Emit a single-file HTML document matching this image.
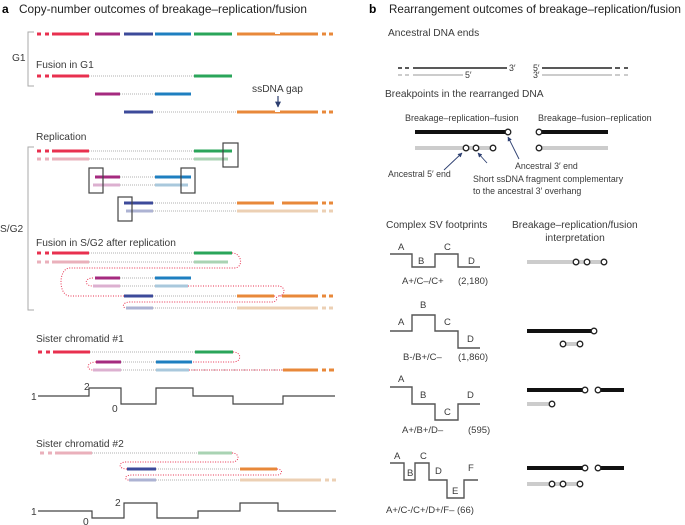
<!DOCTYPE html>
<html><head><meta charset="utf-8"><style>
body{margin:0;background:#fff}
svg{display:block;font-family:"Liberation Sans",sans-serif;fill:#333}
</style></head><body>
<svg width="685" height="525" viewBox="0 0 685 525" xmlns="http://www.w3.org/2000/svg">
<defs>
<marker id="ah" viewBox="0 0 10 10" refX="9" refY="5" markerWidth="5" markerHeight="5" orient="auto"><path d="M0,0L10,5L0,10z" fill="#2c3e70"/></marker>
</defs>
<g font-size="11.6">
<text x="2" y="13" font-weight="bold" font-size="12" fill="#000">a</text>
<text x="19" y="13" fill="#222" textLength="288" lengthAdjust="spacingAndGlyphs">Copy-number outcomes of breakage–replication/fusion</text>
<text x="369" y="13" font-weight="bold" font-size="12" fill="#000">b</text>
<text x="389" y="13" fill="#222" textLength="292" lengthAdjust="spacingAndGlyphs">Rearrangement outcomes of breakage–replication/fusion</text>
</g>
<g font-size="10.2" fill="#3a3a3a">
<text x="36" y="68">Fusion in G1</text>
<text x="252" y="92">ssDNA gap</text>
<text x="36" y="140">Replication</text>
<text x="0" y="232">S/G2</text>
<text x="12" y="61">G1</text>
<text x="36" y="246">Fusion in S/G2 after replication</text>
<text x="36" y="342">Sister chromatid #1</text>
<text x="36" y="447">Sister chromatid #2</text>
<text x="31" y="400">1</text><text x="84" y="390">2</text><text x="112" y="412">0</text>
<text x="31" y="515">1</text><text x="115" y="506">2</text><text x="83" y="525">0</text>
</g>
<g stroke="#aaa" fill="none" stroke-width="1">
<path d="M34,32H28V86H34"/><path d="M34,147H28V310H34"/>
</g>
<g stroke-width="3" fill="none">
<path d="M37,34H41M45,34H49M52,34H89" stroke="#e8304f"/>
<path d="M95,34H120" stroke="#a52a7f"/>
<path d="M124,34H153" stroke="#3c4a9a"/>
<path d="M155,34H191" stroke="#1e7fc0"/>
<path d="M194,34H232" stroke="#2aa55a"/>
<path d="M237,34H318M322,34H326M329,34H333" stroke="#e8883a"/>
<path d="M37,76H41M45,76H49M52,76H89" stroke="#e8304f"/>
<path d="M194,76H232" stroke="#2aa55a"/>
<path d="M95,94H120" stroke="#a52a7f"/>
<path d="M155,94H191" stroke="#1e7fc0"/>
<path d="M124,112H153" stroke="#3c4a9a"/>
<path d="M237,112H318M322,112H326M329,112H333" stroke="#e8883a"/>
<path d="M37,151H41M45,151H49M52,151H89" stroke="#e8304f"/>
<path d="M194,151H232" stroke="#2aa55a"/>
<path d="M37,159H41M45,159H49M52,159H89" stroke="#eab0bb"/>
<path d="M194,159H228" stroke="#a9d3b3"/>
<path d="M95,177H120" stroke="#a52a7f"/><path d="M155,177H191" stroke="#1e7fc0"/>
<path d="M93,185H120" stroke="#dcb0d0"/><path d="M155,185H188" stroke="#a9c8dc"/>
<path d="M124,203H153" stroke="#3c4a9a"/>
<path d="M237,203H274M282,203H318M322,203H326M329,203H333" stroke="#e8883a"/>
<path d="M126,211H153" stroke="#adb3d3"/>
<path d="M237,211H318M322,211H326M329,211H333" stroke="#ecd0b4"/>
<path d="M37,253H41M45,253H49M52,253H89" stroke="#e8304f"/>
<path d="M194,253H232" stroke="#2aa55a"/>
<path d="M37,262H41M45,262H49M52,262H89" stroke="#eab0bb"/>
<path d="M194,262H228" stroke="#a9d3b3"/>
<path d="M95,278H120" stroke="#a52a7f"/><path d="M155,278H191" stroke="#1e7fc0"/>
<path d="M93,286H120" stroke="#dcb0d0"/><path d="M155,286H188" stroke="#a9c8dc"/>
<path d="M124,296H153" stroke="#3c4a9a"/>
<path d="M237,296H274M282,296H318M322,296H326M329,296H333" stroke="#e8883a"/>
<path d="M126,308H153" stroke="#adb3d3"/>
<path d="M237,308H318M322,308H326M329,308H333" stroke="#ecd0b4"/>
<path d="M38,352H42M46,352H50M53,352H90" stroke="#e8304f"/>
<path d="M195,352H233" stroke="#2aa55a"/>
<path d="M96,362H121" stroke="#a52a7f"/><path d="M156,362H192" stroke="#1e7fc0"/>
<path d="M93,370H121" stroke="#dcb0d0"/><path d="M156,370H189" stroke="#a9c8dc"/>
<path d="M283,370H318M322,370H326M329,370H334" stroke="#e8883a"/>
<path d="M40,453H44M48,453H52M55,453H92" stroke="#eab0bb"/>
<path d="M198,453H232" stroke="#a9d3b3"/>
<path d="M127,469H156" stroke="#3c4a9a"/><path d="M240,469H277" stroke="#e8883a"/>
<path d="M129,480H156" stroke="#adb3d3"/>
<path d="M240,480H321M325,480H329M332,480H336" stroke="#ecd0b4"/>
</g>
<rect x="275" y="32" width="5" height="2" fill="#fff"/>
<rect x="275" y="110" width="5" height="2" fill="#fff"/>
<path d="M278,96V107" stroke="#2c3e70" stroke-width="1.2" marker-end="url(#ah)"/>
<g stroke="#999" stroke-width="0.8" stroke-dasharray="1,1" fill="none">
<path d="M89,76H194M120,94H155M153,112H237"/>
<path d="M89,151H194M89,159H194M120,177H155M120,185H155M153,203H237M153,211H237"/>
<path d="M89,253H194M89,262H194M120,278H155M120,286H155M153,296H237M153,308H237"/>
<path d="M90,352H195M121,362H156M121,370H156M189,370H283"/>
<path d="M92,453H198M156,469H240M156,480H240"/>
</g>
<g stroke="#444" stroke-width="1.2" fill="none">
<rect x="223" y="143" width="15" height="24"/>
<rect x="89" y="168" width="14" height="25"/>
<rect x="181" y="168" width="14" height="25"/>
<rect x="118" y="197" width="14" height="24"/>
</g>
<g stroke="#e8304f" stroke-width="1" stroke-dasharray="1,1.5" fill="none">
<path d="M232,253C242,253 244,268 234,268H70C58,268 58,296 70,296H124"/>
<path d="M93,278C84,278 84,286 93,286"/>
<path d="M188,286H278C286,286 286,296 278,296H282"/>
<path d="M274,296C278,296 278,302 272,302H130C122,302 122,308 126,308"/>
<path d="M233,352C242,352 242,362 233,362H192"/>
<path d="M96,362C86,362 86,370 93,370"/>
<path d="M189,370H283"/>
<path d="M232,453C240,453 240,462 232,462H126C118,462 118,469 127,469"/>
<path d="M277,469C283,469 283,475 277,475H132C124,475 124,480 129,480"/>
</g>
<g stroke="#444" stroke-width="1.2" fill="none">
<path d="M38,396H89V388H121V404H156V388H193V396H233V404H283V396H335"/>
<path d="M38,511H92V518H124V503H157V518H198V511H240V503H278V511H336"/>
</g>
<g font-size="10.2" fill="#3a3a3a">
<text x="388" y="36">Ancestral DNA ends</text>
<text x="385" y="97">Breakpoints in the rearranged DNA</text>
<text x="386" y="228">Complex SV footprints</text>
<text x="512" y="228">Breakage–replication/fusion</text>
<text x="575" y="241" text-anchor="middle">interpretation</text>
</g>
<g font-size="9" fill="#3a3a3a">
<text x="405" y="121">Breakage–replication–fusion</text>
<text x="538" y="121">Breakage–fusion–replication</text>
</g>
<g font-size="8.8" fill="#3a3a3a">
<text x="509" y="71">3′</text><text x="465" y="78">5′</text>
<text x="533" y="71">5′</text><text x="533" y="78">3′</text>
<text x="515" y="169">Ancestral 3′ end</text>
<text x="388" y="177">Ancestral 5′ end</text>
<text x="473" y="182">Short ssDNA fragment complementary</text>
<text x="473" y="194">to the ancestral 3′ overhang</text>
</g>
<g fill="none">
<path d="M398,68H402M405,68H409M413,68H507" stroke="#222" stroke-width="1.6"/>
<path d="M398,75H402M405,75H409M413,75H463" stroke="#999" stroke-width="1"/>
<path d="M542,68H612M615,68H620M624,68H628" stroke="#222" stroke-width="1.6"/>
<path d="M542,75H612M615,75H620M624,75H628" stroke="#999" stroke-width="1"/>
<path d="M415,132H508M539,132H608" stroke="#111" stroke-width="4"/>
<path d="M415,148H493M539,148H608" stroke="#ccc" stroke-width="4"/>
<path d="M527,262H604" stroke="#ccc" stroke-width="4"/>
<path d="M527,331H594" stroke="#111" stroke-width="4"/>
<path d="M563,344H580" stroke="#ccc" stroke-width="4"/>
<path d="M527,390H585M598,390H624" stroke="#111" stroke-width="4"/>
<path d="M527,404H552" stroke="#ccc" stroke-width="4"/>
<path d="M527,468H585M598,468H624" stroke="#111" stroke-width="4"/>
<path d="M527,484H580" stroke="#ccc" stroke-width="4"/>
</g>
<g stroke="#2c3e70" stroke-width="0.9" marker-end="url(#ah)">
<line x1="444" y1="170" x2="462" y2="153"/>
<line x1="487" y1="163" x2="478" y2="153"/>
<line x1="519" y1="159" x2="508" y2="137"/>
</g>
<g fill="#fff" stroke="#222" stroke-width="1.3">
<circle cx="508" cy="132" r="2.8"/><circle cx="539" cy="132" r="2.8"/>
<circle cx="466" cy="148" r="2.8"/><circle cx="476" cy="148" r="2.8"/><circle cx="493" cy="148" r="2.8"/>
<circle cx="539" cy="148" r="2.8"/>
<circle cx="576" cy="262" r="2.8"/><circle cx="587" cy="262" r="2.8"/><circle cx="604" cy="262" r="2.8"/>
<circle cx="594" cy="331" r="2.8"/><circle cx="563" cy="344" r="2.8"/><circle cx="580" cy="344" r="2.8"/>
<circle cx="585" cy="390" r="2.8"/><circle cx="598" cy="390" r="2.8"/><circle cx="552" cy="404" r="2.8"/>
<circle cx="585" cy="468" r="2.8"/><circle cx="598" cy="468" r="2.8"/>
<circle cx="552" cy="484" r="2.8"/><circle cx="563" cy="484" r="2.8"/><circle cx="580" cy="484" r="2.8"/>
</g>
<g stroke="#555" stroke-width="1.4" fill="none">
<path d="M390,254H412V267H435V254H458V267H480"/>
<path d="M390,331H412V315H435V331H458V348H480"/>
<path d="M390,387H412V404H435V420H458V404H480"/>
<path d="M390,463H404V480H415V463H429V480H447V498H464V480H478"/>
</g>
<g font-size="9.5" fill="#3a3a3a">
<text x="398" y="250">A</text><text x="418" y="264">B</text><text x="444" y="250">C</text><text x="468" y="264">D</text>
<text x="402" y="284">A+/C–/C+</text><text x="458" y="284">(2,180)</text>
<text x="420" y="308">B</text><text x="398" y="325">A</text><text x="444" y="325">C</text><text x="467" y="342">D</text>
<text x="403" y="360">B-/B+/C–</text><text x="458" y="360">(1,860)</text>
<text x="398" y="382">A</text><text x="420" y="398">B</text><text x="444" y="415">C</text><text x="467" y="398">D</text>
<text x="402" y="433">A+/B+/D–</text><text x="468" y="433">(595)</text>
<text x="394" y="459">A</text><text x="407" y="476">B</text><text x="420" y="459">C</text><text x="435" y="474">D</text><text x="452" y="494">E</text><text x="468" y="471">F</text>
<text x="386" y="513">A+/C-/C+/D+/F– (66)</text>
</g>
</svg>
</body></html>
